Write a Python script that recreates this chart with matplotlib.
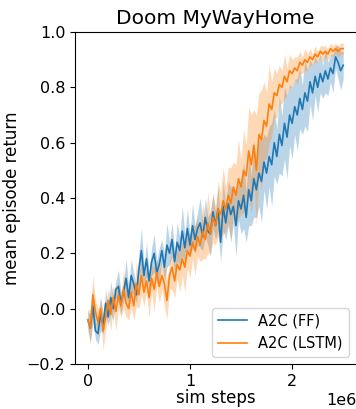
import numpy as np
import matplotlib
matplotlib.use("Agg")
import matplotlib.pyplot as plt

# sim steps (in units of 1e6), one point every 25k steps
steps = np.linspace(0, 2.5, 101)

ff_mean = [-0.04, -0.07, 0.01, -0.08, -0.09, -0.02, -0.06, 0.02, -0.03, 0.04,
           0.00, 0.07, 0.08, 0.02, 0.06, 0.11, 0.04, 0.12, 0.09, 0.05,
           0.14, 0.21, 0.12, 0.18, 0.10, 0.17, 0.20, 0.13, 0.16, 0.21,
           0.15, 0.23, 0.20, 0.25, 0.17, 0.24, 0.21, 0.28, 0.22, 0.29,
           0.23, 0.30, 0.25, 0.29, 0.31, 0.26, 0.33, 0.28, 0.27, 0.35,
           0.30, 0.36, 0.24, 0.37, 0.31, 0.38, 0.34, 0.37, 0.30, 0.39,
           0.36, 0.41, 0.33, 0.43, 0.39, 0.47, 0.43, 0.49, 0.46, 0.53,
           0.49, 0.55, 0.52, 0.60, 0.55, 0.63, 0.59, 0.67, 0.62, 0.70,
           0.67, 0.73, 0.70, 0.76, 0.72, 0.78, 0.75, 0.82, 0.78, 0.84,
           0.80, 0.85, 0.82, 0.86, 0.83, 0.87, 0.85, 0.91, 0.89, 0.86,
           0.88]
ff_spread = [0.03, 0.05, 0.06, 0.03, 0.04, 0.06, 0.03, 0.05, 0.03, 0.06,
             0.04, 0.03, 0.06, 0.04, 0.03, 0.07, 0.04, 0.06, 0.04, 0.03,
             0.06, 0.08, 0.04, 0.06, 0.03, 0.05, 0.07, 0.04, 0.06, 0.04,
             0.05, 0.08, 0.04, 0.06, 0.04, 0.07, 0.05, 0.09, 0.05, 0.07,
             0.04, 0.08, 0.05, 0.06, 0.09, 0.05, 0.07, 0.05, 0.08, 0.06,
             0.05, 0.08, 0.07, 0.09, 0.06, 0.08, 0.10, 0.06, 0.11, 0.07,
             0.09, 0.12, 0.09, 0.13, 0.09, 0.14, 0.10, 0.12, 0.15, 0.10,
             0.13, 0.11, 0.15, 0.12, 0.10, 0.14, 0.11, 0.13, 0.15, 0.11,
             0.13, 0.10, 0.13, 0.11, 0.09, 0.12, 0.11, 0.08, 0.10, 0.07,
             0.09, 0.07, 0.06, 0.08, 0.06, 0.05, 0.07, 0.04, 0.06, 0.07,
             0.05]

lstm_mean = [-0.04, -0.07, 0.05, -0.01, -0.05, 0.00, -0.08, -0.03, 0.03, -0.02,
             0.04, -0.01, 0.05, 0.01, 0.07, 0.02, 0.00, 0.06, 0.01, 0.09,
             0.05, 0.12, 0.06, 0.10, 0.04, 0.11, 0.07, 0.13, 0.08, 0.12,
             0.09, 0.03, 0.12, 0.15, 0.10, 0.16, 0.14, 0.18, 0.15, 0.21,
             0.19, 0.24, 0.21, 0.26, 0.23, 0.28, 0.25, 0.31, 0.27, 0.33,
             0.30, 0.36, 0.34, 0.39, 0.36, 0.41, 0.38, 0.44, 0.41, 0.47,
             0.44, 0.50, 0.48, 0.57, 0.52, 0.59, 0.50, 0.63, 0.61, 0.68,
             0.66, 0.74, 0.72, 0.78, 0.77, 0.81, 0.80, 0.84, 0.82, 0.86,
             0.85, 0.87, 0.86, 0.89, 0.88, 0.90, 0.89, 0.91, 0.90, 0.92,
             0.91, 0.93, 0.92, 0.93, 0.92, 0.94, 0.93, 0.94, 0.93, 0.94,
             0.94]
lstm_spread = [0.04, 0.06, 0.07, 0.04, 0.05, 0.04, 0.07, 0.05, 0.04, 0.06,
               0.04, 0.07, 0.05, 0.04, 0.07, 0.05, 0.04, 0.06, 0.05, 0.08,
               0.05, 0.07, 0.05, 0.04, 0.07, 0.05, 0.08, 0.05, 0.06, 0.05,
               0.08, 0.07, 0.05, 0.08, 0.06, 0.05, 0.08, 0.06, 0.09, 0.06,
               0.08, 0.06, 0.09, 0.07, 0.06, 0.10, 0.07, 0.11, 0.07, 0.09,
               0.07, 0.10, 0.08, 0.12, 0.08, 0.10, 0.13, 0.09, 0.11, 0.14,
               0.10, 0.15, 0.11, 0.16, 0.18, 0.13, 0.20, 0.15, 0.18, 0.14,
               0.12, 0.14, 0.10, 0.09, 0.08, 0.07, 0.06, 0.08, 0.05, 0.06,
               0.05, 0.04, 0.05, 0.04, 0.03, 0.04, 0.03, 0.03, 0.02, 0.03,
               0.02, 0.02, 0.03, 0.02, 0.02, 0.02, 0.02, 0.02, 0.02, 0.02,
               0.02]

steps_abs = steps * 1e6
series = [
    ("A2C (FF)", ff_mean, ff_spread, "#1f77b4"),
    ("A2C (LSTM)", lstm_mean, lstm_spread, "#ff7f0e"),
]

fig = plt.figure(figsize=(3.56, 4.09), dpi=100)
ax = fig.add_axes([75 / 356, 45 / 409, 281 / 356, 332 / 409])

for label, mean, spread, color in series:
    mean = np.array(mean)
    spread = np.array(spread)
    ax.fill_between(steps_abs, mean - spread, mean + spread,
                    color=color, alpha=0.3, linewidth=0)
    ax.plot(steps_abs, mean, color=color, linewidth=1.2, label=label)

ax.set_ylim(-0.2, 1.0)
ax.set_yticks([-0.2, 0.0, 0.2, 0.4, 0.6, 0.8, 1.0])
ax.spines["right"].set_visible(False)
ax.set_title("Doom MyWayHome", fontsize=14.5)
ax.set_xlabel("sim steps", fontsize=12, labelpad=0)
ax.set_ylabel("mean episode return", fontsize=12)
ax.tick_params(labelsize=11.5)
ax.xaxis.get_offset_text().set_fontsize(11.5)
ax.legend(loc="lower right", fontsize=10.5)

fig.savefig("out.png", dpi=100)
